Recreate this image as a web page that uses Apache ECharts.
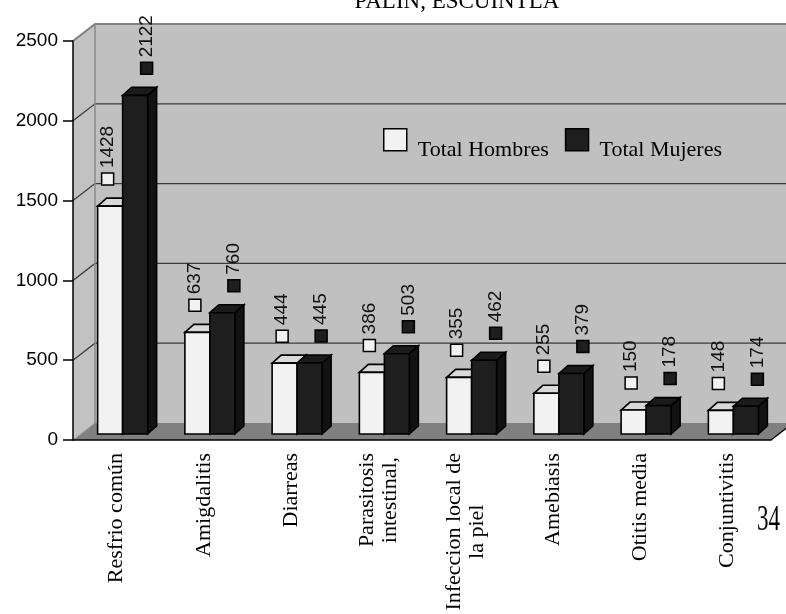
<!DOCTYPE html>
<html>
<head>
<meta charset="utf-8">
<script src="https://cdn.jsdelivr.net/npm/echarts@6/dist/echarts.min.js"></script>
<style>
  html, body { margin: 0; padding: 0; background: #ffffff; }
  #chart { width: 786px; height: 614px; }
</style>
</head>
<body>
<div id="chart"></div>
<script>
// Diagnoses and totals by sex
const categories = [
  'Resfrio común', 'Amigdalitis', 'Diarreas', 'Parasitosis\nintestinal,',
  'Infeccion local de\nla piel', 'Amebiasis', 'Otitis media', 'Conjuntivitis'
];
const hombres = [1428, 637, 444, 386, 355, 255, 150, 148];
const mujeres = [2122, 760, 445, 503, 462, 379, 178, 174];
const seriesNames = ['Total Hombres', 'Total Mujeres'];
const yTicks = [0, 500, 1000, 1500, 2000, 2500];

// Pseudo-3D layout constants (pixels)
const WALL_DX = 22, WALL_DY = -17;   // depth of the back wall
const PLANE_DX = 6, PLANE_DY = -6;   // plane the bar fronts stand on
const BAR_W = 25;                    // width of one bar face
const BAR_DX = 9, BAR_DY = -8;       // bar depth
const LABEL_DX = [-9, 30];           // value marker offsets from category centre
const LABEL_DY = -27;

const SERIF = 'Liberation Serif, Times New Roman, serif';
const SANS = 'Liberation Sans, Arial, sans-serif';

const chart = echarts.init(document.getElementById('chart'), null, { renderer: 'canvas' });

function wallsItem(params, api) {
  const cs = params.coordSys;
  const xl = cs.x, xr = cs.x + cs.width;
  const y0 = api.coord([0, 0])[1];
  const yTop = api.coord([0, yTicks[yTicks.length - 1]])[1];
  const children = [];
  // back wall
  children.push({
    type: 'rect',
    shape: { x: xl + WALL_DX, y: yTop + WALL_DY, width: cs.width, height: y0 - yTop },
    style: { fill: '#c0c0c0' }
  });
  // side wall
  children.push({
    type: 'polygon',
    shape: { points: [[xl, yTop], [xl + WALL_DX, yTop + WALL_DY], [xl + WALL_DX, y0 + WALL_DY], [xl, y0]] },
    style: { fill: '#c2c2c2' }
  });
  // floor
  children.push({
    type: 'polygon',
    shape: { points: [[xl, y0], [xr, y0], [xr + WALL_DX, y0 + WALL_DY], [xl + WALL_DX, y0 + WALL_DY]] },
    style: { fill: '#808080' }
  });
  // gridlines on back and side walls
  yTicks.forEach(function (t, i) {
    if (i === 0 || i === yTicks.length - 1) return;
    const y = api.coord([0, t])[1];
    children.push({
      type: 'polyline',
      shape: { points: [[xl, y], [xl + WALL_DX, y + WALL_DY], [xr + WALL_DX + 30, y + WALL_DY]] },
      style: { stroke: '#3a3a3a', lineWidth: 1.3, fill: null }
    });
  });
  // top edges and wall corner
  children.push({
    type: 'polyline',
    shape: { points: [[xl, yTop], [xl + WALL_DX, yTop + WALL_DY], [xr + WALL_DX + 30, yTop + WALL_DY]] },
    style: { stroke: '#808080', lineWidth: 2, fill: null }
  });
  children.push({
    type: 'line',
    shape: { x1: xl + WALL_DX, y1: yTop + WALL_DY, x2: xl + WALL_DX, y2: y0 + WALL_DY },
    style: { stroke: '#8a8a8a', lineWidth: 1.5 }
  });
  children.push({
    type: 'line',
    shape: { x1: xl, y1: y0, x2: xl + WALL_DX, y2: y0 + WALL_DY },
    style: { stroke: '#a0a0a0', lineWidth: 1 }
  });
  children.push({
    type: 'line',
    shape: { x1: xr, y1: y0, x2: xr + WALL_DX, y2: y0 + WALL_DY },
    style: { stroke: '#000', lineWidth: 1.3 }
  });
  return { type: 'group', children: children };
}

function barsItem(side, front, top, right) {
  return function (params, api) {
    const idx = api.value(0), v = api.value(1);
    const base = api.coord([idx, 0]);
    const tip = api.coord([idx, v]);
    const cx = base[0] + PLANE_DX;
    const by = base[1] + PLANE_DY;
    const ty = tip[1] + PLANE_DY;
    const x0 = side === 0 ? cx - BAR_W : cx;
    const x1 = x0 + BAR_W;
    const edge = { stroke: '#000', lineWidth: 1.6, lineJoin: 'miter' };
    const mx = base[0] + LABEL_DX[side];
    const my = ty + LABEL_DY;
    return {
      type: 'group',
      children: [
        { type: 'polygon', shape: { points: [[x1, by], [x1 + BAR_DX, by + BAR_DY], [x1 + BAR_DX, ty + BAR_DY], [x1, ty]] },
          style: Object.assign({ fill: right }, edge) },
        { type: 'polygon', shape: { points: [[x0, ty], [x0 + BAR_DX, ty + BAR_DY], [x1 + BAR_DX, ty + BAR_DY], [x1, ty]] },
          style: Object.assign({ fill: top }, edge) },
        { type: 'rect', shape: { x: x0, y: ty, width: BAR_W, height: by - ty },
          style: Object.assign({ fill: front }, edge) },
        { type: 'rect', shape: { x: mx - 6, y: my - 6, width: 12, height: 12 },
          style: { fill: front, stroke: '#000', lineWidth: 1.5 } },
        { type: 'text', x: mx, y: my - 11, rotation: Math.PI / 2,
          style: { text: String(v), fontFamily: SANS, fontSize: 19,
                   fill: '#111', align: 'left', verticalAlign: 'middle' } }
      ]
    };
  };
}

function toData(arr) { return arr.map(function (v, i) { return [i, v]; }); }

const option = {
  animation: false,
  backgroundColor: '#ffffff',
  title: {
    text: 'PALIN, ESCUINTLA',
    left: 452, top: -15, textAlign: 'center',
    textStyle: { fontFamily: SERIF, fontSize: 23, fontWeight: 'normal', color: '#000' }
  },
  legend: {
    left: 383, top: 128, padding: 0,
    itemWidth: 23, itemHeight: 22, itemGap: 16,
    icon: 'rect', selectedMode: false,
    data: seriesNames,
    itemStyle: { borderColor: '#000', borderWidth: 1.5 },
    formatter: function (name) { return '{t|' + name + '}'; },
    textStyle: {
      fontFamily: SERIF, fontSize: 22, color: '#000',
      rich: { t: { fontFamily: SERIF, fontSize: 22, color: '#000', padding: [20, 2, 0, 6] } }
    }
  },
  grid: { left: 73, top: 41, width: 698, height: 399 },
  xAxis: {
    type: 'category', data: categories, z: 5,
    axisLine: { lineStyle: { color: '#000', width: 1.5 } },
    axisTick: { length: 9, lineStyle: { color: '#666', width: 1.5 } },
    axisLabel: {
      rotate: 90, margin: 13, interval: 0,
      fontFamily: SERIF, fontSize: 22, color: '#000', lineHeight: 23,
      formatter: function (s) { return s.split('\n').map(function (l) { return '{c|' + l + '}'; }).join('\n'); },
      rich: { c: { align: 'center', fontFamily: SERIF, fontSize: 22, lineHeight: 23, color: '#000' } }
    },
    splitLine: { show: false }
  },
  yAxis: {
    type: 'value', min: 0, max: 2500, interval: 500, z: 5,
    axisLine: { show: true, lineStyle: { color: '#000', width: 1.5 } },
    axisTick: { show: true, length: 10, lineStyle: { color: '#000', width: 1.5 } },
    axisLabel: {
      margin: 15, fontFamily: SANS, fontSize: 19, color: '#000',
      formatter: function (v) { return String(v); }
    },
    splitLine: { show: false }
  },
  graphic: [{
    type: 'text', left: 757, top: 503, scaleX: 0.66,
    style: { text: '34', fontFamily: SERIF, fontSize: 35, fill: '#000' }
  }],
  series: [
    { type: 'custom', name: '_walls', z: 1, clip: false, silent: true, data: [[0, 0]], renderItem: wallsItem },
    { type: 'custom', name: seriesNames[0], z: 2, clip: false, data: toData(hombres),
      itemStyle: { color: '#f2f2f2', borderColor: '#000', borderWidth: 1.5 },
      renderItem: barsItem(0, '#f2f2f2', '#d9d9d9', '#bdbdbd') },
    { type: 'custom', name: seriesNames[1], z: 3, clip: false, data: toData(mujeres),
      itemStyle: { color: '#1e1e1e', borderColor: '#000', borderWidth: 1.5 },
      renderItem: barsItem(1, '#1e1e1e', '#1b1b1b', '#121212') }
  ]
};
chart.setOption(option);
</script>
</body>
</html>
